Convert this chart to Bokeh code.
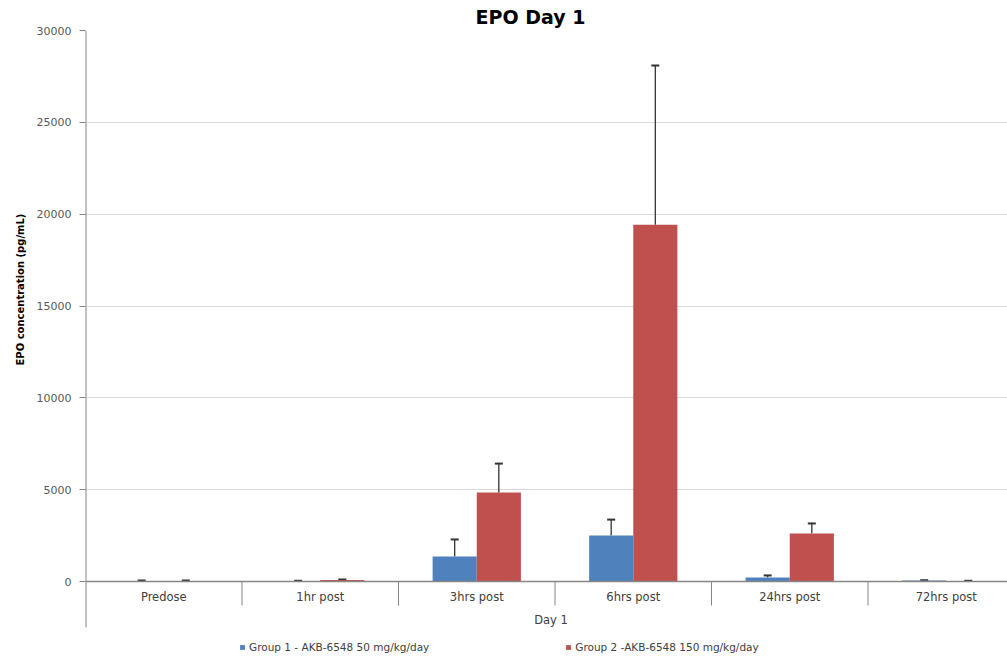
from bokeh.plotting import figure
from bokeh.models import (Range1d, FixedTicker, Whisker, TeeHead, ColumnDataSource,
                          Legend, LegendItem, Span, Title, NumeralTickFormatter)
from bokeh.core.properties import value
from bokeh.embed import file_html
from bokeh.resources import INLINE

# ---- data ----
categories = ["Predose", "1hr post", "3hrs post", "6hrs post", "24hrs post", "72hrs post"]
group1 = [30, 20, 1360, 2500, 220, 50]
group1_err = [20, 20, 930, 870, 110, 20]
group2 = [30, 80, 4840, 19430, 2610, 20]
group2_err = [20, 30, 1580, 8660, 550, 20]
series_names = ["Group 1 - AKB-6548 50 mg/kg/day", "Group 2 -AKB-6548 150 mg/kg/day"]
y_ticks = [0, 5000, 10000, 15000, 20000, 25000, 30000]
title_text = "EPO Day 1"
x_title = "Day 1"
y_title = "EPO concentration (pg/mL)"

# ---- layout constants ----
W, H = 1007, 657
LEFT = 85
TOP = 30
PLOT_PX = 551.0              # pixels from 0 to 30000
Y_MAX = 30000
UPP = Y_MAX / PLOT_PX        # data units per pixel
BELOW_PX = H - TOP - PLOT_PX # frame extends below zero (labels + legend band)
CAT_PX = 156.5
FRAME_W = W - LEFT
FONT = "DejaVu Sans"
BLUE = "#4f81bd"
RED = "#c0504d"
AXIS_C = "#868686"

p = figure(width=W, height=H, output_backend="svg", toolbar_location=None,
           x_range=Range1d(0, FRAME_W / CAT_PX),
           y_range=Range1d(-BELOW_PX * UPP, Y_MAX),
           min_border_left=LEFT, min_border_right=0, min_border_top=TOP, min_border_bottom=0)
p.outline_line_color = None
p.background_fill_color = "white"

p.title.text = title_text
p.title.align = "left"
p.title.offset = 390
p.title.text_font = FONT
p.title.text_font_size = "19px"
p.title.text_font_style = "bold"
p.title.text_color = "#000000"
p.title.standoff = 5

p.xaxis.visible = False
p.xgrid.visible = False

yax = p.yaxis[0]
yax.ticker = FixedTicker(ticks=y_ticks)
yax.formatter = NumeralTickFormatter(format="0")
yax.axis_line_color = None
yax.major_tick_line_color = AXIS_C
yax.major_tick_out = 6
yax.major_tick_in = 0
yax.minor_tick_line_color = None
yax.major_label_standoff = 8
yax.major_label_text_font = FONT
yax.major_label_text_font_size = "11px"
yax.major_label_text_color = "#595959"

p.ygrid.ticker = FixedTicker(ticks=y_ticks)
p.ygrid.grid_line_color = "#d9d9d9"
p.ygrid.grid_line_width = 1

# vertical axis line (ends below the category band, as in the original)
p.segment(x0=[0], y0=[Y_MAX], x1=[0], y1=[-46 * UPP], line_color=AXIS_C, line_width=2)

n = len(categories)
half = 0.141
bw = 0.282
centers = [i + 0.5 for i in range(n)]
x1 = [c - half for c in centers]
x2 = [c + half for c in centers]

s1 = ColumnDataSource(dict(x=x1, top=group1, upper=[v + e for v, e in zip(group1, group1_err)]))
s2 = ColumnDataSource(dict(x=x2, top=group2, upper=[v + e for v, e in zip(group2, group2_err)]))

r1 = p.vbar(x="x", top="top", bottom=0, width=bw, source=s1, fill_color=BLUE, line_color=None)
r2 = p.vbar(x="x", top="top", bottom=0, width=bw, source=s2, fill_color=RED, line_color=None)

for src in (s1, s2):
    w = Whisker(base="x", lower="top", upper="upper", source=src, dimension="height",
                line_color="#333333", line_width=1.3,
                upper_head=TeeHead(size=8, line_color="#333333", line_width=2),
                lower_head=None)
    p.add_layout(w)

# zero line and category separators
p.add_layout(Span(location=0, dimension="width", line_color=AXIS_C, line_width=1.3))
sep_x = [float(i) for i in range(1, n + 1)]
p.segment(x0=sep_x, y0=[0] * len(sep_x), x1=sep_x, y1=[-24 * UPP] * len(sep_x),
          line_color=AXIS_C, line_width=1)

# category labels
p.text(x=centers, y=[0] * n, text=categories, y_offset=15,
       text_font=value(FONT), text_font_size="11.5px", text_color="#404040",
       text_align="center", text_baseline="middle")
p.text(x=[3.0 - 4 / CAT_PX], y=[0], text=[x_title], y_offset=38,
       text_font=value(FONT), text_font_size="11.5px", text_color="#404040",
       text_align="center", text_baseline="middle")

# y-axis title
yt = Title(text=y_title, align="left", offset=292, text_font=FONT, text_font_size="10px",
           text_font_style="bold", text_color="#000000", standoff=16)
p.add_layout(yt, "left")

legend = Legend(items=[LegendItem(label=series_names[0], renderers=[r1]),
                       LegendItem(label=series_names[1], renderers=[r2])],
                orientation="horizontal", location=(154, 4),
                glyph_width=6, glyph_height=6, label_text_font=FONT,
                label_text_font_size="10.5px", label_text_color="#404040",
                spacing=136, padding=2, margin=0, border_line_color=None,
                background_fill_alpha=0, label_standoff=4, label_height=12)
p.add_layout(legend, "center")

open("out.html", "w").write(file_html(p, INLINE))
